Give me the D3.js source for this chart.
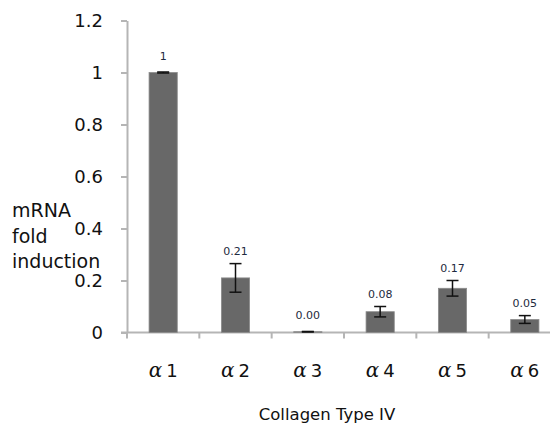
<!DOCTYPE html>
<html>
<head>
  <meta charset="utf-8">
  <title>Collagen Type IV mRNA</title>
  <style>
    body { margin: 0; background: #fff; }
    svg { display: block; }
  </style>
</head>
<body>
  <script src="https://d3js.org/d3.v7.min.js"></script>
  <script>
    var categories = ['1', '2', '3', '4', '5', '6'];
    var values = [1.0, 0.21, 0.003, 0.08, 0.17, 0.05];
    var errors = [0.002, 0.055, 0.001, 0.02, 0.03, 0.015];
    var valueLabels = ['1', '0.21', '0.00', '0.08', '0.17', '0.05'];
    var yTicks = [0, 0.2, 0.4, 0.6, 0.8, 1, 1.2];
    var yTickLabels = ['0', '0.2', '0.4', '0.6', '0.8', '1', '1.2'];

    var W = 550, H = 423;
    var font = '"DejaVu Sans", sans-serif';
    var axisColor = '#b5b5b5';

    var svg = d3.select('body').append('svg')
      .attr('width', W).attr('height', H);

    var x = d3.scaleBand().domain(categories)
      .range([127, 561]).paddingInner(0.61).paddingOuter(0.305);
    var y = d3.scaleLinear().domain([0, 1.2]).range([332.5, 20.5]);

    // y axis
    var yAxis = svg.append('g').attr('transform', 'translate(127,0)')
      .call(d3.axisLeft(y).tickValues(yTicks)
        .tickFormat(function(d, i) { return yTickLabels[i]; })
        .tickSize(6).tickPadding(18).tickSizeOuter(0));
    yAxis.select('.domain').attr('stroke', axisColor).attr('stroke-width', 2);
    yAxis.selectAll('.tick line').attr('stroke', axisColor).attr('stroke-width', 2);
    yAxis.selectAll('.tick text')
      .attr('font-family', font).attr('font-size', 18).attr('fill', '#111');

    // x axis line + boundary ticks
    var step = x.step();
    var gap = step - x.bandwidth();
    svg.append('line')
      .attr('x1', 121).attr('x2', W)
      .attr('y1', y(0)).attr('y2', y(0))
      .attr('stroke', axisColor).attr('stroke-width', 2);
    svg.selectAll('.xtick').data(categories).enter().append('line')
      .attr('class', 'xtick')
      .attr('x1', function(d) { return x(d) - gap / 2; })
      .attr('x2', function(d) { return x(d) - gap / 2; })
      .attr('y1', y(0)).attr('y2', y(0) + 6)
      .attr('stroke', axisColor).attr('stroke-width', 2);

    // bars
    svg.selectAll('.bar').data(values).enter().append('rect')
      .attr('class', 'bar')
      .attr('x', function(d, i) { return x(categories[i]); })
      .attr('width', x.bandwidth())
      .attr('y', function(d) { return y(d); })
      .attr('height', function(d) { return y(0) - y(d); })
      .attr('fill', '#686868')
      .attr('stroke', '#8c8c8c').attr('stroke-width', 0.8);

    // error bars
    var eb = svg.selectAll('.err').data(values).enter().append('g')
      .attr('class', 'err')
      .attr('transform', function(d, i) {
        return 'translate(' + (x(categories[i]) + x.bandwidth() / 2) + ',0)';
      });
    eb.append('line')
      .attr('y1', function(d, i) { return y(d + errors[i]); })
      .attr('y2', function(d, i) { return y(Math.max(0, d - errors[i])); })
      .attr('stroke', '#111').attr('stroke-width', 1.5);
    eb.append('line')
      .attr('x1', -6).attr('x2', 6)
      .attr('y1', function(d, i) { return y(d + errors[i]); })
      .attr('y2', function(d, i) { return y(d + errors[i]); })
      .attr('stroke', '#111').attr('stroke-width', 1.5);
    eb.append('line')
      .attr('x1', -6).attr('x2', 6)
      .attr('y1', function(d, i) { return y(Math.max(0, d - errors[i])); })
      .attr('y2', function(d, i) { return y(Math.max(0, d - errors[i])); })
      .attr('stroke', '#111').attr('stroke-width', 1.5);

    // value labels
    svg.selectAll('.vlabel').data(values).enter().append('text')
      .attr('class', 'vlabel')
      .attr('x', function(d, i) { return x(categories[i]) + x.bandwidth() / 2; })
      .attr('y', function(d, i) { return Math.min(y(d) - 13, y(d + errors[i]) - 9); })
      .attr('text-anchor', 'middle')
      .attr('font-family', font).attr('font-size', 11)
      .attr('fill', '#1e2a40')
      .text(function(d, i) { return valueLabels[i]; });

    // category labels
    var cl = svg.selectAll('.clabel').data(categories).enter().append('text')
      .attr('class', 'clabel')
      .attr('x', function(d) { return x(d) + x.bandwidth() / 2; })
      .attr('y', 377)
      .attr('text-anchor', 'middle')
      .attr('font-family', font).attr('font-size', 18).attr('fill', '#111');
    cl.append('tspan')
      .attr('font-family', '"DejaVu Serif", serif').attr('font-style', 'italic')
      .attr('font-size', 20)
      .text('\u03b1');
    cl.append('tspan').attr('dx', 4).text(function(d) { return d; });

    // axis titles
    var yt = svg.append('text')
      .attr('font-family', font).attr('font-size', 19).attr('fill', '#111');
    ['mRNA', 'fold', 'induction'].forEach(function(t, i) {
      yt.append('tspan').attr('x', 12).attr('y', 217 + i * 25.5).text(t);
    });

    svg.append('text')
      .attr('x', 327).attr('y', 420)
      .attr('text-anchor', 'middle')
      .attr('font-family', font).attr('font-size', 16.5).attr('fill', '#111')
      .text('Collagen Type IV');
  </script>
</body>
</html>
